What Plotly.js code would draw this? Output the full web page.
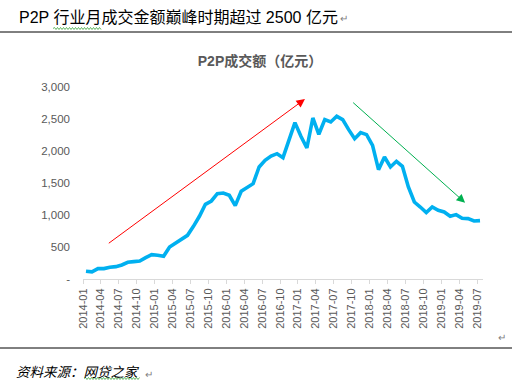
<!DOCTYPE html>
<html>
<head>
<meta charset="utf-8">
<script src="https://cdn.plot.ly/plotly-3.0.1.min.js"></script>
<style>html,body{margin:0;padding:0;background:#fff;}#chart{width:512px;height:386px;}</style>
</head>
<body>
<div id="chart"></div>
<script>
// ---- data ----
const months = [
  '2014-01','2014-02','2014-03','2014-04','2014-05','2014-06','2014-07','2014-08','2014-09','2014-10','2014-11','2014-12',
  '2015-01','2015-02','2015-03','2015-04','2015-05','2015-06','2015-07','2015-08','2015-09','2015-10','2015-11','2015-12',
  '2016-01','2016-02','2016-03','2016-04','2016-05','2016-06','2016-07','2016-08','2016-09','2016-10','2016-11','2016-12',
  '2017-01','2017-02','2017-03','2017-04','2017-05','2017-06','2017-07','2017-08','2017-09','2017-10','2017-11','2017-12',
  '2018-01','2018-02','2018-03','2018-04','2018-05','2018-06','2018-07','2018-08','2018-09','2018-10','2018-11','2018-12',
  '2019-01','2019-02','2019-03','2019-04','2019-05','2019-06','2019-07'
];
const volume = [
  122, 112, 162, 162, 183, 193, 219, 261, 271, 281, 333, 380,
  370, 354, 500, 563, 625, 682, 823, 980, 1167, 1219, 1333, 1344,
  1308, 1147, 1370, 1438, 1490, 1750, 1855, 1922, 1958, 1896, 2177, 2443,
  2230, 2047, 2516, 2261, 2490, 2453, 2542, 2490, 2334, 2193, 2287, 2256,
  2089, 1709, 1906, 1750, 1839, 1761, 1438, 1203, 1125, 1037, 1125, 1073,
  1047, 980, 1006, 948, 943, 906, 912
];
const tickLabels = ['2014-01','2014-04','2014-07','2014-10','2015-01','2015-04','2015-07','2015-10',
  '2016-01','2016-04','2016-07','2016-10','2017-01','2017-04','2017-07','2017-10',
  '2018-01','2018-04','2018-07','2018-10','2019-01','2019-04','2019-07'];
const yTickVals = [0, 500, 1000, 1500, 2000, 2500, 3000];
const yTickText = ['-', '500', '1,000', '1,500', '2,000', '2,500', '3,000'];
// trend arrows: [fromMonth, fromValue, toMonth, toValue] (month index, value)
const upArrow = [3.57, 542, 36.68, 2812];
const downArrow = [44.5, 2777, 63.5, 1192];

const headerText = 'P2P 行业月成交金额巅峰时期超过 2500 亿元';
const chartTitle = 'P2P成交额（亿元）';
const sourceText = '资料来源：网贷之家';

// ---- layout helpers ----
const W = 512, H = 386;
const M = {l: 83, r: 29, t: 87, b: 107};
const PW = W - M.l - M.r, PH = H - M.t - M.b;
const px = x => (x - M.l) / PW;
const py = y => (H - M.b - y) / PH;
const FONT = 'Liberation Sans, Arial, Noto Sans CJK SC, sans-serif';
const CJK = 'Liberation Sans, Arial, Noto Sans CJK SC, sans-serif';

function wavy(x1, x2, y) {
  let d = 'M' + px(x1) + ',' + py(y);
  let up = true;
  for (let x = x1 + 1.5; x <= x2; x += 1.5) {
    d += ' L' + px(x) + ',' + py(y + (up ? -1 : 1));
    up = !up;
  }
  return {type: 'path', xref: 'paper', yref: 'paper', path: d,
          line: {color: '#3aa53a', width: 0.8}};
}

const xIdx = months.map((m, i) => i);

const trace = {
  x: xIdx, y: volume, type: 'scatter', mode: 'lines',
  line: {color: '#00b0f0', width: 3.6, shape: 'linear'},
  hoverinfo: 'skip'
};

function arrow(a, color) {
  return {x: a[2], y: a[3], ax: a[0], ay: a[1], xref: 'x', yref: 'y', axref: 'x', ayref: 'y',
          text: '', showarrow: true, arrowhead: 2, arrowsize: 1.7, arrowwidth: 1,
          arrowcolor: color, standoff: 0, startstandoff: 0};
}

const layout = {
  width: W, height: H,
  margin: M,
  paper_bgcolor: '#ffffff', plot_bgcolor: '#ffffff',
  showlegend: false,
  title: {text: '<b>' + chartTitle + '</b>', font: {family: CJK, size: 14, color: '#595959'},
          xref: 'container', yref: 'container', x: 260 / W, y: 1 - 61 / H,
          xanchor: 'center', yanchor: 'middle'},
  xaxis: {
    range: [-0.5, months.length - 0.5],
    tickmode: 'array',
    tickvals: tickLabels.map(l => months.indexOf(l) - 0.5),
    ticktext: tickLabels,
    tickangle: -90,
    ticks: 'outside', ticklen: 4, tickcolor: '#d9d9d9', tickwidth: 1,
    showline: true, linecolor: '#d9d9d9', linewidth: 1,
    showgrid: false, zeroline: false,
    tickfont: {family: FONT, size: 11, color: '#595959'},
    fixedrange: true
  },
  yaxis: {
    range: [0, 3000],
    tickmode: 'array', tickvals: yTickVals, ticktext: yTickText,
    showline: false, showgrid: false, zeroline: false, ticks: '',
    ticklabelstandoff: 12,
    tickfont: {family: FONT, size: 11.5, color: '#595959'},
    fixedrange: true
  },
  shapes: [
    {type: 'line', xref: 'paper', yref: 'paper', x0: px(0), x1: px(W), y0: py(32), y1: py(32),
     line: {color: '#000000', width: 1}},
    {type: 'line', xref: 'paper', yref: 'paper', x0: px(0), x1: px(W), y0: py(348), y1: py(348),
     line: {color: '#000000', width: 1}},
    wavy(53, 101, 28.5),
    wavy(84, 140, 378.5)
  ],
  annotations: [
    arrow(upArrow, '#ff0000'),
    arrow(downArrow, '#00b050'),
    {xref: 'paper', yref: 'paper', x: px(17), y: py(17), xanchor: 'left', yanchor: 'middle',
     text: headerText, showarrow: false, font: {family: CJK, size: 16, color: '#000000'}},
    {xref: 'paper', yref: 'paper', x: px(338), y: py(19), xanchor: 'left', yanchor: 'middle',
     text: '↵', showarrow: false, font: {family: FONT, size: 10, color: '#808080'}},
    {xref: 'paper', yref: 'paper', x: px(496), y: py(337), xanchor: 'left', yanchor: 'middle',
     text: '↵', showarrow: false, font: {family: FONT, size: 10, color: '#808080'}},
    {xref: 'paper', yref: 'paper', x: px(14), y: py(372), xanchor: 'left', yanchor: 'middle',
     text: '<i>' + sourceText + '</i>', showarrow: false, font: {family: CJK, size: 13.5, color: '#000000'}},
    {xref: 'paper', yref: 'paper', x: px(143), y: py(374), xanchor: 'left', yanchor: 'middle',
     text: '↵', showarrow: false, font: {family: FONT, size: 10, color: '#808080'}}
  ]
};

Plotly.newPlot('chart', [trace], layout, {staticPlot: true, displayModeBar: false});
</script>
</body>
</html>
